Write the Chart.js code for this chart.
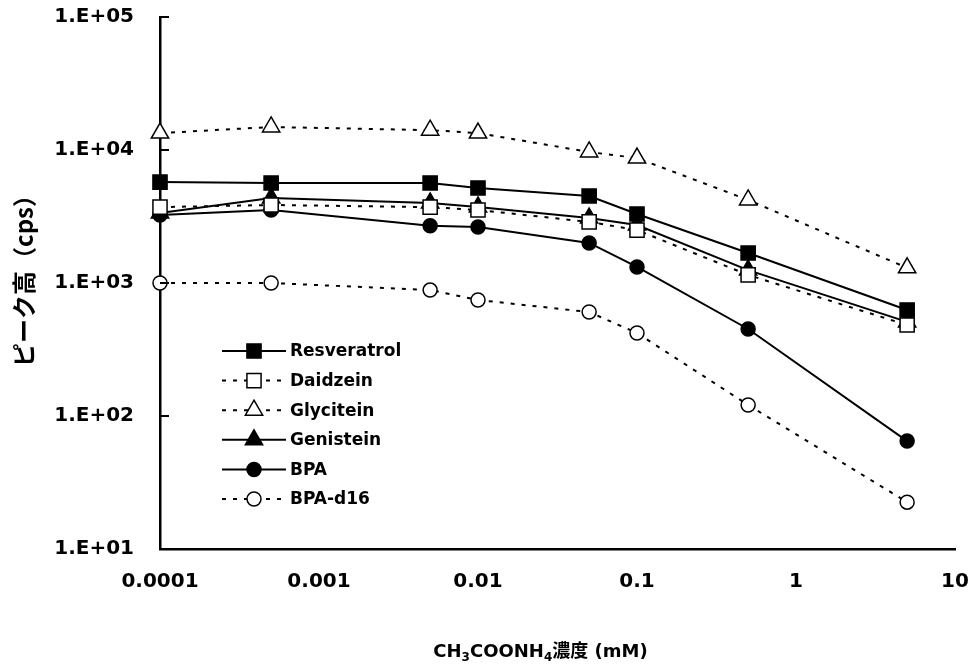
<!DOCTYPE html>
<html>
<head>
<meta charset="utf-8">
<script src="https://cdn.jsdelivr.net/npm/chart.js@4.4.0/dist/chart.umd.min.js"></script>
<style>
  html, body { margin: 0; padding: 0; background: #fff; }
</style>
</head>
<body>
<canvas id="chart" width="973" height="670"></canvas>
<script>
// Dane (stezenie w mM, wysokosc piku w cps)
const concentrations = [0.0001, 0.0005, 0.005, 0.01, 0.05, 0.1, 0.5, 5];
const resveratrol = [5740, 5650, 5650, 5180, 4510, 3300, 1680, 627];
const daidzein = [3720, 3860, 3720, 3540, 2880, 2500, 1150, 483];
const glycitein = [13400, 14900, 14100, 13400, 9660, 8700, 4210, 1300];
const genistein = [3360, 4360, 4000, 3730, 3080, 2730, 1250, 510];
const bpa = [3240, 3540, 2690, 2640, 2000, 1320, 451, 64.8];
const bpaD16 = [1000, 1000, 885, 745, 605, 421, 121, 22.5];

const seriesNames = ['Resveratrol', 'Daidzein', 'Glycitein', 'Genistein', 'BPA', 'BPA-d16'];
const xTickValues = [0.0001, 0.001, 0.01, 0.1, 1, 10];
const xTickLabels = ['0.0001', '0.001', '0.01', '0.1', '1', '10'];
const yTickValues = [10, 100, 1000, 10000, 100000];
const yTickLabels = ['1.E+01', '1.E+02', '1.E+03', '1.E+04', '1.E+05'];
const yTitle = 'ピーク高（cps）';

const DASH = [4, 7];
const tickFont = { family: '"DejaVu Sans"', size: 20, weight: 'bold' };

function toPoints(values) {
    return concentrations.map((c, i) => ({ x: c, y: values[i] }));
}

function makeSeries(label, values, style, radius, filled, dashed) {
    return {
        label: label,
        data: toPoints(values),
        borderColor: '#000',
        borderWidth: 2,
        borderDash: dashed ? DASH : [],
        pointStyle: style,
        pointRadius: radius,
        pointBackgroundColor: filled ? '#000' : '#fff',
        pointBorderColor: '#000',
        pointBorderWidth: 1.5,
        fill: false,
        tension: 0,
        clip: false
    };
}

const datasets = [
    makeSeries(seriesNames[0], resveratrol, 'rect', 10, true, false),
    makeSeries(seriesNames[1], daidzein, 'rect', 10, false, true),
    makeSeries(seriesNames[2], glycitein, 'triangle', 10, false, true),
    makeSeries(seriesNames[3], genistein, 'triangle', 10, true, false),
    makeSeries(seriesNames[4], bpa, 'circle', 7, true, false),
    makeSeries(seriesNames[5], bpaD16, 'circle', 7, false, true)
];

// bez dodatkowego marginesu od etykiet (obszar wykresu ustawiony recznie)
function noPadding(s) {
    s.paddingTop = 0;
    s.paddingBottom = 0;
    s.paddingLeft = 0;
    s.paddingRight = 0;
}

// Rysowanie punktu (legenda)
function drawMarker(ctx, ds, x, y) {
    ctx.save();
    ctx.setLineDash([]);
    ctx.lineWidth = ds.pointBorderWidth;
    ctx.strokeStyle = ds.pointBorderColor;
    ctx.fillStyle = ds.pointBackgroundColor;
    Chart.helpers.drawPoint(ctx, {
        pointStyle: ds.pointStyle,
        radius: ds.pointRadius,
        rotation: 0,
        borderWidth: ds.pointBorderWidth
    }, x, y);
    ctx.restore();
}

// Wlasna legenda, tytuly osi i znaczniki skierowane do srodka
const extrasPlugin = {
    id: 'extras',
    afterDraw(chart) {
        const ctx = chart.ctx;
        const area = chart.chartArea;
        const yScale = chart.scales.y;

        // znaczniki osi Y (do wewnatrz)
        ctx.save();
        ctx.strokeStyle = '#000';
        ctx.lineWidth = 2;
        yTickValues.forEach(v => {
            const py = yScale.getPixelForValue(v);
            ctx.beginPath();
            ctx.moveTo(area.left, py);
            ctx.lineTo(area.left + 9, py);
            ctx.stroke();
        });
        ctx.restore();

        // legenda
        const lx0 = area.left + 62;
        const lx1 = area.left + 126;
        const ly0 = area.top + 334;
        const step = 29.6;
        ctx.save();
        ctx.font = 'bold 17px "DejaVu Sans"';
        ctx.textBaseline = 'middle';
        ctx.fillStyle = '#000';
        chart.data.datasets.forEach((ds, i) => {
            const y = ly0 + i * step;
            ctx.save();
            ctx.strokeStyle = '#000';
            ctx.lineWidth = 2;
            ctx.setLineDash(ds.borderDash);
            ctx.beginPath();
            ctx.moveTo(lx0, y);
            ctx.lineTo(lx1, y);
            ctx.stroke();
            ctx.restore();
            drawMarker(ctx, ds, (lx0 + lx1) / 2, y);
            ctx.fillText(ds.label, lx1 + 4, y + 1);
        });
        ctx.restore();

        // tytul osi Y
        ctx.save();
        ctx.translate(24, (area.top + area.bottom) / 2 - 8);
        ctx.rotate(-Math.PI / 2);
        ctx.font = 'bold 24px "Noto Sans CJK JP"';
        ctx.textAlign = 'center';
        ctx.textBaseline = 'middle';
        ctx.fillStyle = '#000';
        ctx.fillText(yTitle, 0, 0);
        ctx.restore();

        // tytul osi X z indeksami dolnymi
        const parts = [
            { t: 'CH', sub: false },
            { t: '3', sub: true },
            { t: 'COONH', sub: false },
            { t: '4', sub: true },
            { t: '濃度 (mM)', sub: false }
        ];
        const mainFont = 'bold 18px "DejaVu Sans", "Noto Sans CJK JP"';
        const subFont = 'bold 12px "DejaVu Sans"';
        ctx.save();
        ctx.fillStyle = '#000';
        ctx.textBaseline = 'alphabetic';
        let total = 0;
        parts.forEach(p => {
            ctx.font = p.sub ? subFont : mainFont;
            p.w = ctx.measureText(p.t).width;
            total += p.w;
        });
        let x = (area.left + area.right) / 2 - 17 - total / 2;
        const base = 657;
        parts.forEach(p => {
            ctx.font = p.sub ? subFont : mainFont;
            ctx.fillText(p.t, x, p.sub ? base + 4 : base);
            x += p.w;
        });
        ctx.restore();
    }
};

new Chart(document.getElementById('chart').getContext('2d'), {
    type: 'line',
    data: { datasets: datasets },
    options: {
        responsive: false,
        animation: false,
        devicePixelRatio: 1,
        layout: { padding: { top: 17, right: 18, left: 0, bottom: 0 } },
        plugins: {
            legend: { display: false },
            tooltip: { enabled: false }
        },
        scales: {
            x: {
                type: 'logarithmic',
                min: 0.0001,
                max: 10,
                afterBuildTicks: s => { s.ticks = xTickValues.map(v => ({ value: v })); },
                afterFit: s => { s.height = 121; noPadding(s); },
                grid: { display: false, drawTicks: false },
                border: { display: true, color: '#000', width: 2.5 },
                ticks: {
                    autoSkip: false,
                    maxRotation: 0,
                    minRotation: 0,
                    padding: 21,
                    color: '#000',
                    font: tickFont,
                    callback: (v, i) => xTickLabels[i]
                }
            },
            y: {
                type: 'logarithmic',
                min: 10,
                max: 100000,
                afterBuildTicks: s => { s.ticks = yTickValues.map(v => ({ value: v })); },
                afterFit: s => { s.width = 160; noPadding(s); },
                grid: { display: false, drawTicks: false },
                border: { display: true, color: '#000', width: 2.5 },
                ticks: {
                    autoSkip: false,
                    padding: 26,
                    color: '#000',
                    font: tickFont,
                    callback: (v, i) => yTickLabels[i]
                }
            }
        }
    },
    plugins: [extrasPlugin]
});
</script>
</body>
</html>
